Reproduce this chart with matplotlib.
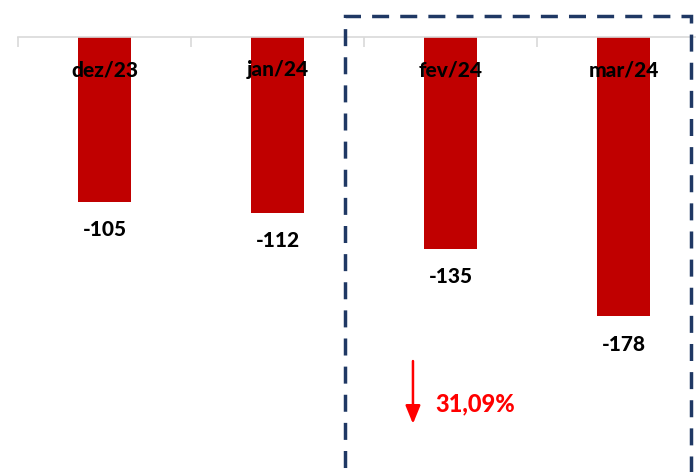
import matplotlib
matplotlib.use("Agg")
import matplotlib.pyplot as plt
from matplotlib.patches import Rectangle

categories = ["dez/23", "jan/24", "fev/24", "mar/24"]
values = [-105, -112, -135, -178]
change_label = "31,09%"

W, H = 696, 472
fig = plt.figure(figsize=(W / 100, H / 100), dpi=100)
top_px = 37
ax = fig.add_axes([18 / W, 0, 692 / W, (H - top_px) / H])

x = list(range(len(categories)))
ax.bar(x, values, width=0.31, color="#C00000", zorder=2)
ax.set_xlim(-0.5, 3.5)
ax.set_ylim(-277.2, 0)

for s in ["left", "right", "bottom"]:
    ax.spines[s].set_visible(False)
ax.spines["top"].set_color("#D9D9D9")
ax.spines["top"].set_linewidth(1.2)
ax.set_yticks([])
ax.set_xticks([i - 0.5 for i in range(len(categories) + 1)])
ax.set_xticklabels([])
ax.tick_params(axis="x", top=True, bottom=False, direction="in", length=7,
               color="#D9D9D9", width=1.2, labeltop=False, labelbottom=False)

font = "Lato"
wt = 900
for xi, cat, v in zip(x, categories, values):
    ax.text(xi, -21, cat, ha="center", va="center", fontsize=15,
            fontweight=wt, family=font, color="black", zorder=3)
    ax.annotate(str(v), (xi, v), xytext=(0, -20), textcoords="offset points",
                ha="center", va="center", fontsize=15, fontweight=wt,
                family=font, color="black")

# dashed highlight box
rect = Rectangle((1.39, -320), 2.0, 333.4, fill=False, edgecolor="#1F3864",
                 linewidth=2.5, linestyle=(0, (4.9, 3.2)), clip_on=False, zorder=4)
ax.add_patch(rect)

# arrow and percentage
ax.annotate("", xy=(1.783, -246.5), xytext=(1.783, -206.5),
            arrowprops=dict(arrowstyle="-|>,head_width=0.45,head_length=1.1",
                            color="#FF0000", lw=1.8, shrinkA=0, shrinkB=0))
ax.text(1.915, -234, change_label, ha="left", va="center", fontsize=17,
        fontweight=wt, family=font, color="#FF0000")

fig.savefig("out.png", dpi=100)
